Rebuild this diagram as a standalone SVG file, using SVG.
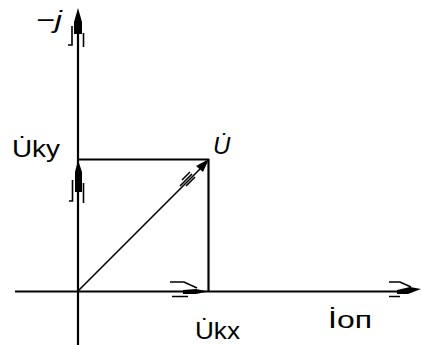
<svg xmlns="http://www.w3.org/2000/svg" width="422" height="345" viewBox="0 0 422 345">
<style>
.ax{stroke:#000;stroke-width:2.2;fill:none}
.thin{stroke:#000;stroke-width:1.6;fill:none}
.head{fill:#000;stroke:none}
.lbl{font-family:"Liberation Sans",Arial,sans-serif;font-size:24px;fill:#000}
</style>
<rect width="422" height="345" fill="#fff"/>
<g id="connectors">
  <line class="ax" x1="78" y1="30" x2="78" y2="345"/>
  <line class="ax" x1="15" y1="291.5" x2="410" y2="291.5"/>
  <line class="ax" x1="78" y1="159.5" x2="209" y2="159.5"/>
  <line class="ax" x1="208.5" y1="159" x2="208.5" y2="291"/>
  <line class="thin" x1="78" y1="291" x2="202" y2="167"/>
  <path class="head" d="M209,159 L203,172 L196,166 Z"/>
  <path class="thin" d="M180,186 L192,174 M186,186 L195,177 M182,180 L190,172"/>
  <path class="head" d="M78,8 L82,22 L82,34 L74,34 L74,22 Z"/>
  <path class="thin" d="M72,26 L72,45 L68,45 M83.5,33 L83.5,47"/>
  <path class="head" d="M78,160 L82,172 L82,192 L75,192 L75,172 Z"/>
  <path class="thin" d="M72.5,180 L72.5,201 L69,201 M83.5,183 L83.5,203"/>
  <path class="thin" d="M170,282 L184,282 L197,288 M172,296.5 L188,296.5"/>
  <path class="head" d="M208,291.5 L196,294 L183,294 L183,290 L196,289 Z"/>
  <path class="thin" d="M389,282 L400,282 L411,287 M389,296.5 L400,296.5"/>
  <path class="head" d="M421,289 L408,294 L397,294 L397,290 L410,287 Z"/>
</g>
<g id="label-minus-j"><text class="lbl" x="36" y="28" textLength="26" lengthAdjust="spacingAndGlyphs" font-style="italic">−j</text></g>
<g id="label-Uky"><text class="lbl" x="12" y="157" textLength="48" lengthAdjust="spacingAndGlyphs">U̇ky</text></g>
<g id="label-U"><text class="lbl" x="213" y="154" font-style="italic" fill="#222">U̇</text></g>
<g id="label-Ukx"><text class="lbl" x="195" y="339" textLength="45" lengthAdjust="spacingAndGlyphs">U̇kx</text></g>
<g id="label-Ion"><text class="lbl" x="328" y="328" textLength="44" lengthAdjust="spacingAndGlyphs">İоп</text></g>
</svg>
